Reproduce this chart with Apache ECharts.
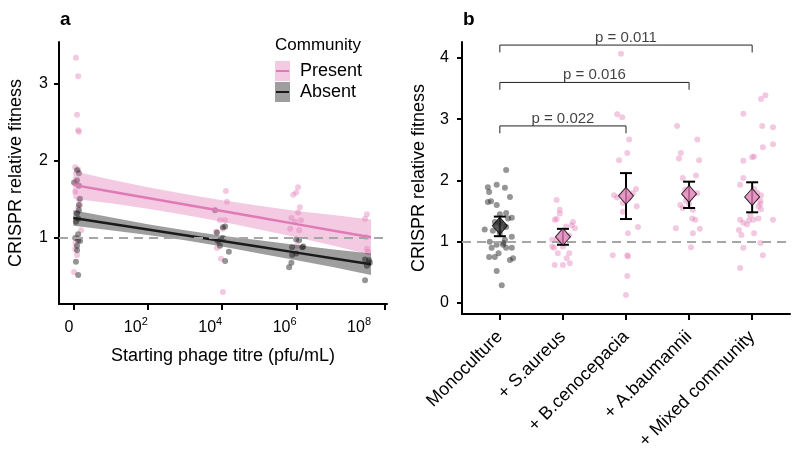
<!DOCTYPE html>
<html><head><meta charset="utf-8">
<script src="https://cdn.jsdelivr.net/npm/echarts@6/dist/echarts.min.js"></script>
<style>html,body{margin:0;padding:0;background:#fff}#c{width:800px;height:456px}</style>
</head><body><div id="c"></div>
<script>
const FONT = '"Liberation Sans", Arial, Helvetica, sans-serif';

// ---------- Panel a data ----------
const titreTickPos = [0, 2, 4, 6, 8];            // log10 positions of labels
const titreAxisTicks = [0, 2, 4, 6, 8.38];
const fitX = [0, 1, 2, 3, 4, 5, 6, 7, 8];
const presentFit = [1.69, 1.605, 1.52, 1.435, 1.35, 1.265, 1.18, 1.095, 1.01];
const presentLo  = [1.51, 1.45, 1.38, 1.30, 1.21, 1.11, 1.01, 0.90, 0.78];
const presentHi  = [1.87, 1.76, 1.66, 1.57, 1.49, 1.42, 1.35, 1.30, 1.24];
const absentFit  = [1.26, 1.185, 1.11, 1.035, 0.96, 0.885, 0.81, 0.735, 0.66];
const absentLo   = [1.16, 1.10, 1.04, 0.97, 0.89, 0.80, 0.71, 0.62, 0.52];
const absentHi   = [1.36, 1.27, 1.18, 1.10, 1.03, 0.97, 0.91, 0.85, 0.80];

const presentPts = [
  [0.07,3.34],[0.13,3.10],[0.10,2.60],[0.13,2.40],[0.15,2.38],[0.05,1.92],[0.13,1.89],
  [0.07,1.73],[0.05,1.60],[0.15,1.50],[0.18,1.43],[0.13,1.39],[0.21,1.10],[0.12,1.00],
  [0.06,0.93],[0.05,0.86],[0.10,0.78],[0.02,0.56],
  [4.10,1.61],[4.13,1.47],[3.94,1.23],[4.08,1.23],[4.02,1.12],[3.84,1.08],[3.86,0.97],
  [3.86,0.87],[3.97,0.73],[4.02,0.30],
  [6.04,1.66],[5.99,1.59],[5.91,1.56],[6.09,1.40],[6.04,1.33],[5.86,1.26],[6.12,1.23],
  [5.96,1.21],[5.83,1.12],[6.07,1.10],[6.01,0.90],
  [7.89,1.31],[7.84,1.25],[7.87,1.01],[7.89,0.86],[7.92,0.82]
];
const absentPts = [
  [0.10,1.88],[0.15,1.84],[0.02,1.72],[0.10,1.75],[0.15,1.68],[0.18,1.51],[0.15,1.43],
  [0.15,1.36],[0.10,1.32],[0.13,1.25],[0.07,1.21],[0.13,1.05],[0.05,1.00],[0.13,0.97],
  [0.18,0.96],[0.10,0.90],[0.10,0.84],[0.07,0.69],[0.13,0.52],
  [3.81,1.36],[4.02,1.14],[4.08,1.15],[3.86,1.07],[4.02,1.00],[3.89,0.96],[3.94,0.90],
  [4.18,0.82],[4.08,0.70],
  [5.99,0.98],[6.07,0.97],[6.15,0.88],[5.88,0.88],[6.18,0.89],[5.99,0.80],[5.88,0.78],
  [5.86,0.68],[5.80,0.62],
  [7.95,0.71],[7.84,0.72],[7.97,0.68],[7.89,0.64],[7.84,0.45]
];

// ---------- Panel b data ----------
const categories = ['Monoculture', '+ S.aureus', '+ B.cenocepacia', '+ A.baumannii', '+ Mixed community'];
const monoPts = [
  [-0.19,1.89],[-0.05,1.93],[-0.17,1.81],[0.10,2.17],[0.08,1.88],[0.16,1.73],[-0.19,1.65],
  [-0.14,1.66],[-0.05,1.60],[0.10,1.47],[0.00,1.45],[0.19,1.39],[0.13,1.38],[-0.08,1.32],
  [0.00,1.30],[0.10,1.24],[-0.24,1.20],[-0.11,1.18],[0.00,1.14],[0.19,1.08],[0.08,1.03],
  [-0.16,1.00],[0.06,0.98],[-0.05,0.95],[0.05,0.95],[-0.13,0.90],[0.10,0.90],[0.19,0.90],
  [-0.02,0.81],[-0.08,0.75],[-0.17,0.75],[0.21,0.73],[0.16,0.70],[-0.05,0.52],[0.03,0.29]
];
const saureusPts = [
  [0.90,1.68],[0.95,1.52],[0.95,1.46],[0.87,1.36],[0.90,1.37],[1.16,1.32],[1.14,1.27],
  [1.05,1.25],[1.19,1.22],[1.10,1.10],[0.90,1.03],[0.83,1.03],[0.95,1.00],[0.83,0.92],
  [0.86,0.90],[1.00,0.92],[0.92,0.81],[1.10,0.81],[1.06,0.73],[0.87,0.62],[1.00,0.62],[1.11,0.65]
];
const bcenoPts = [
  [1.92,4.07],[1.86,3.08],[1.94,3.03],[2.05,2.67],[2.02,2.45],[1.89,2.33],[1.81,1.76],
  [1.86,1.72],[2.11,1.79],[2.16,1.86],[2.06,1.72],[2.03,1.70],[1.95,1.63],[2.17,1.58],
  [1.95,1.49],[2.19,1.24],[2.03,1.14],[1.79,0.78],[2.02,0.78],[2.03,0.76],[2.02,0.44],[2.00,0.13]
];
const abaumPts = [
  [2.81,2.89],[3.13,2.67],[2.87,2.45],[2.84,2.36],[3.16,2.33],[2.90,2.04],[3.11,2.08],
  [2.94,1.85],[3.13,1.79],[2.95,1.67],[3.00,1.62],[2.86,1.60],[2.90,1.55],[3.06,1.52],
  [3.05,1.38],[3.10,1.36],[3.17,1.21],[2.79,1.22],[3.06,1.14],[3.03,0.91]
];
const mixedPts = [
  [4.21,3.39],[4.14,3.33],[3.86,3.09],[4.16,2.89],[4.33,2.87],[4.33,2.59],[4.17,2.54],
  [4.03,2.39],[4.00,2.38],[3.86,2.32],[3.86,2.04],[3.81,1.93],[4.03,1.86],[4.08,1.80],
  [4.14,1.76],[4.13,1.67],[4.13,1.62],[4.10,1.58],[4.14,1.53],[3.97,1.43],[3.81,1.36],
  [3.95,1.35],[4.02,1.36],[4.10,1.38],[4.33,1.36],[3.86,1.31],[3.92,1.28],[3.79,1.19],
  [3.83,1.11],[4.03,1.14],[4.13,0.98],[3.86,0.90],[4.17,0.78],[3.81,0.57]
];
const meanVals = [1.26, 1.08, 1.75, 1.78, 1.73];
const errLow   = [1.09, 0.95, 1.37, 1.55, 1.48];
const errHigh  = [1.41, 1.21, 2.12, 1.98, 1.97];
const bracketEnd   = [2, 3, 4];
const bracketLevel = [2.89, 3.60, 4.21];
const bracketText  = ['p = 0.022', 'p = 0.016', 'p = 0.011'];

// ---------- styles ----------
const PINK = '#e07ab6';
const PINK_PT = 'rgba(226,125,184,0.52)';
const GREY_PT = 'rgba(40,40,40,0.62)';
const PINK_BAND = 'rgba(224,122,182,0.40)';
const GREY_BAND = 'rgba(0,0,0,0.38)';
const TICKFS = 16;

function axisBase(extra) {
  return Object.assign({
    axisLine: {show: true, onZero: false, lineStyle: {color: '#000', width: 2}},
    axisTick: {show: true, length: 5, lineStyle: {color: '#000', width: 2}},
    splitLine: {show: false},
    nameTextStyle: {fontFamily: FONT, fontSize: 18, color: '#000'},
  }, extra);
}

function band(lo, hi, color, z) {
  return {
    type: 'custom', xAxisIndex: 0, yAxisIndex: 0, silent: true, z: z,
    data: fitX.map((x, i) => [x, lo[i], hi[i]]),
    encode: {x: 0, y: [1, 2]},
    renderItem: function (params, api) {
      if (params.dataIndex !== 0) return null;
      const pts = [];
      for (let i = 0; i < fitX.length; i++) pts.push(api.coord([fitX[i], hi[i]]));
      for (let i = fitX.length - 1; i >= 0; i--) pts.push(api.coord([fitX[i], lo[i]]));
      return {type: 'polygon', shape: {points: pts}, style: {fill: color}};
    }
  };
}

const dashedOne = {
  silent: true, symbol: 'none', label: {show: false},
  lineStyle: {color: '#a6a6a6', type: [9, 6], width: 2},
  data: [{yAxis: 1}]
};

const series = [
  // panel a
  {type: 'scatter', xAxisIndex: 0, yAxisIndex: 0, data: presentPts, symbolSize: 6,
   itemStyle: {color: PINK_PT}, z: 1, silent: true},
  {type: 'scatter', xAxisIndex: 0, yAxisIndex: 0, data: absentPts, symbolSize: 6,
   itemStyle: {color: GREY_PT}, z: 1, silent: true},
  band(presentLo, presentHi, PINK_BAND, 2),
  band(absentLo, absentHi, GREY_BAND, 2),
  {type: 'line', xAxisIndex: 0, yAxisIndex: 0, data: fitX.map((x, i) => [x, presentFit[i]]),
   showSymbol: false, lineStyle: {color: PINK, width: 2.5}, z: 4, silent: true,
   markLine: dashedOne},
  {type: 'line', xAxisIndex: 0, yAxisIndex: 0, data: fitX.map((x, i) => [x, absentFit[i]]),
   showSymbol: false, lineStyle: {color: '#1a1a1a', width: 2.5}, z: 4, silent: true},
  // panel b
  {type: 'scatter', xAxisIndex: 1, yAxisIndex: 1, data: monoPts, symbolSize: 6,
   itemStyle: {color: GREY_PT}, z: 1, silent: true, markLine: dashedOne},
  {type: 'scatter', xAxisIndex: 1, yAxisIndex: 1,
   data: [].concat(saureusPts, bcenoPts, abaumPts, mixedPts), symbolSize: 6,
   itemStyle: {color: PINK_PT}, z: 1, silent: true},
  {type: 'custom', xAxisIndex: 1, yAxisIndex: 1, silent: true, z: 5,
   data: meanVals.map((m, i) => [i, errLow[i], errHigh[i]]),
   encode: {x: 0, y: [1, 2]},
   renderItem: function (params, api) {
     const x = api.value(0);
     const p1 = api.coord([x, api.value(1)]);
     const p2 = api.coord([x, api.value(2)]);
     const w = 6;
     const st = {stroke: '#000', lineWidth: 2};
     return {type: 'group', children: [
       {type: 'line', shape: {x1: p1[0], y1: p1[1], x2: p2[0], y2: p2[1]}, style: st},
       {type: 'line', shape: {x1: p1[0] - w, y1: p1[1], x2: p1[0] + w, y2: p1[1]}, style: st},
       {type: 'line', shape: {x1: p2[0] - w, y1: p2[1], x2: p2[0] + w, y2: p2[1]}, style: st}
     ]};
   }},
  {type: 'scatter', xAxisIndex: 1, yAxisIndex: 1, symbol: 'diamond', symbolSize: [15, 17], z: 6,
   silent: true,
   data: meanVals.map((m, i) => ({value: [i, m],
     itemStyle: {color: i === 0 ? '#2b2b2b' : '#e07fb6', borderColor: '#000', borderWidth: 1}}))}
];

bracketEnd.forEach((e, k) => {
  const lv = bracketLevel[k], drop = 0.12;
  series.push({type: 'line', xAxisIndex: 1, yAxisIndex: 1, silent: true, z: 3,
    data: [[0, lv - drop], [0, lv], [e, lv], [e, lv - drop]], showSymbol: false,
    lineStyle: {color: '#222', width: 1}});
  series.push({type: 'scatter', xAxisIndex: 1, yAxisIndex: 1, silent: true, z: 3,
    data: [[e / 2, lv]], symbolSize: 0,
    label: {show: true, position: 'top', distance: 0, formatter: bracketText[k],
      fontFamily: FONT, fontSize: 15, color: '#111'}});
});

const option = {
  animation: false,
  backgroundColor: '#fff',
  textStyle: {fontFamily: FONT},
  grid: [
    {left: 59, top: 42, width: 328, height: 262},
    {left: 462, top: 42, width: 328, height: 272}
  ],
  xAxis: [
    axisBase({type: 'value', gridIndex: 0, min: -0.385, max: 8.43,
      axisTick: {show: true, length: 6, customValues: titreAxisTicks, lineStyle: {color: '#000', width: 2}},
      axisLabel: {customValues: titreTickPos, align: 'right', margin: 12, color: '#000',
        fontFamily: FONT, fontSize: TICKFS,
        formatter: v => v === 0 ? '{b|0}' : '{b|10}{s|' + v + '}',
        rich: {b: {fontSize: TICKFS, fontFamily: FONT, color: '#000', lineHeight: 20, verticalAlign: 'bottom'},
               s: {fontSize: 11, fontFamily: FONT, color: '#000', lineHeight: 20, verticalAlign: 'top'}}},
      name: 'Starting phage titre (pfu/mL)', nameLocation: 'middle', nameGap: 43}),
    axisBase({type: 'value', gridIndex: 1, min: -0.6, max: 4.6,
      axisTick: {show: true, length: 6, customValues: [0, 1, 2, 3, 4], lineStyle: {color: '#000', width: 2}},
      axisLabel: {customValues: [0, 1, 2, 3, 4], rotate: 45, margin: 20, color: '#000',
        fontFamily: FONT, fontSize: 18, formatter: v => categories[Math.round(v)]}})
  ],
  yAxis: [
    axisBase({type: 'value', gridIndex: 0, min: 0.143, max: 3.545,
      axisTick: {show: true, length: 5, customValues: [1, 2, 3], lineStyle: {color: '#000', width: 2}},
      axisLabel: {customValues: [1, 2, 3], margin: 11, color: '#000', fontFamily: FONT, fontSize: TICKFS},
      name: 'CRISPR relative fitness', nameLocation: 'middle', nameGap: 34}),
    axisBase({type: 'value', gridIndex: 1, min: -0.18, max: 4.26,
      axisTick: {show: true, length: 5, customValues: [0, 1, 2, 3, 4], lineStyle: {color: '#000', width: 2}},
      axisLabel: {customValues: [0, 1, 2, 3, 4], margin: 13, color: '#000', fontFamily: FONT, fontSize: TICKFS},
      name: 'CRISPR relative fitness', nameLocation: 'middle', nameGap: 34})
  ],
  graphic: [
    {type: 'text', left: 60, top: 10, style: {text: 'a', font: 'bold 19px ' + FONT, fill: '#000'}},
    {type: 'text', left: 463, top: 10, style: {text: 'b', font: 'bold 19px ' + FONT, fill: '#000'}},
    {type: 'text', left: 275, top: 37, style: {text: 'Community', font: '17px ' + FONT, fill: '#000'}},
    {type: 'rect', shape: {x: 275, y: 61, width: 15, height: 20}, style: {fill: '#f3cae2'}},
    {type: 'line', shape: {x1: 276, y1: 71, x2: 289, y2: 71}, style: {stroke: PINK, lineWidth: 2}},
    {type: 'rect', shape: {x: 275, y: 82, width: 15, height: 20}, style: {fill: '#9e9e9e'}},
    {type: 'line', shape: {x1: 276, y1: 92, x2: 289, y2: 92}, style: {stroke: '#1a1a1a', lineWidth: 2}},
    {type: 'text', left: 300, top: 62, style: {text: 'Present', font: '18px ' + FONT, fill: '#000'}},
    {type: 'text', left: 300, top: 83, style: {text: 'Absent', font: '18px ' + FONT, fill: '#000'}}
  ],
  series: series
};

const chart = echarts.init(document.getElementById('c'));
chart.setOption(option);
</script>
</body></html>
